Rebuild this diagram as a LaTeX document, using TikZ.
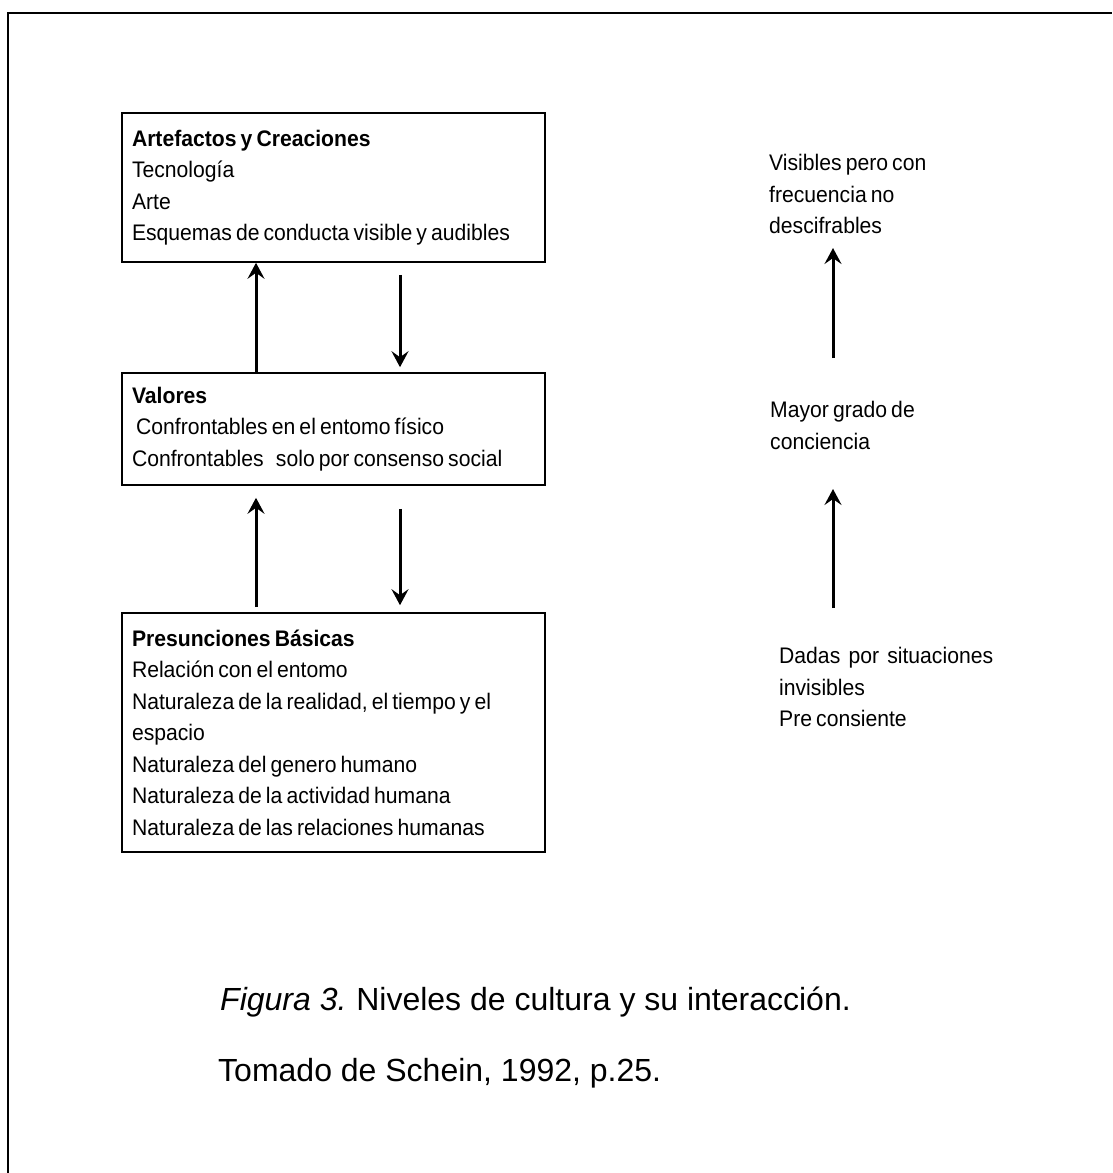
\documentclass[tikz,border=0pt]{standalone}
\usepackage{fontspec}
\setmainfont{Liberation Sans}
\newfontfamily\narrowfont[FakeStretch=0.94, WordSpace=0.7]{Liberation Sans}
\usetikzlibrary{arrows.meta}
\tikzset{
  box/.style={draw, line width=1.6pt, minimum width=423pt, text width=403pt,
    inner xsep=10pt, inner ysep=0pt, align=left,
    font=\narrowfont\fontsize{22.5}{31.5}\selectfont,
    execute at begin node={\spaceskip=0pt\xspaceskip=0pt\relax}},
  side/.style={anchor=north west, align=left, inner sep=0pt,
    font=\narrowfont\fontsize{22.5}{31.5}\selectfont},
  arr/.style={line width=3pt, -{Stealth[length=16pt,width=17pt,inset=6pt]}},
  captext/.style={anchor=base west, inner sep=0pt, font=\fontsize{32}{36}\selectfont}
}
\begin{document}
\begin{tikzpicture}[x=1pt,y=-1pt]
\useasboundingbox (0,0) rectangle (1112,1173);
\fill[white] (0,0) rectangle (1112,1173);
% outer frame (open on the right and at the bottom)
\draw[line width=2pt] (8,1173) -- (8,13) -- (1112,13);

% the three levels
\node[box, minimum height=149pt] (b1) at (333.5,187.5) {%
  \textbf{Artefactos y Creaciones}\\
  Tecnología\\
  Arte\\
  Esquemas de conducta visible y audibles};
\node[box, minimum height=112pt] (b2) at (333.5,429) {%
  \textbf{Valores}\\
  \ Confrontables en el entomo físico\\
  Confrontables \ \ solo por consenso social};
\node[box, minimum height=239pt] (b3) at (333.5,732.5) {%
  \textbf{Presunciones Básicas}\\
  Relación con el entomo\\
  Naturaleza de la realidad, el tiempo y el\\
  espacio\\
  Naturaleza del genero humano\\
  Naturaleza de la actividad humana\\
  Naturaleza de las relaciones humanas};

% columns of the connectors
\coordinate (up) at (256,0);
\coordinate (dn) at (400,0);

\draw[arr] (b2.north -| up) -- (b1.south -| up);
\draw[arr, shorten <=12pt, shorten >=5pt] (b1.south -| dn) -- (b2.north -| dn);
\draw[arr, shorten <=5pt, shorten >=12pt] (b3.north -| up) -- (b2.south -| up);
\draw[arr, shorten <=23pt, shorten >=7pt] (b2.south -| dn) -- (b3.north -| dn);

% right-hand column
\node[side] (r1) at (769,154) {Visibles pero con\\frecuencia no\\descifrables};
\node[side] (r2) at (770,401) {Mayor grado de\\conciencia};
\node[side] (r3) at (779,647) {Dadas \ por \ situaciones\\invisibles\\Pre consiente};

\coordinate (r1a) at (833,358);
\coordinate (r1b) at (833,248);
\coordinate (r2a) at (833,608);
\coordinate (r2b) at (833,489);
\draw[arr] (r1a) -- (r1b);
\draw[arr] (r2a) -- (r2b);

% caption
\node[captext] (c1) at (220,1010) {\textit{Figura 3.}\hspace{-2pt} Niveles de cultura y su interacción.};
\node[captext] (c2) at (218,1081) {Tomado de Schein, 1992, p.25.};
\end{tikzpicture}
\end{document}
